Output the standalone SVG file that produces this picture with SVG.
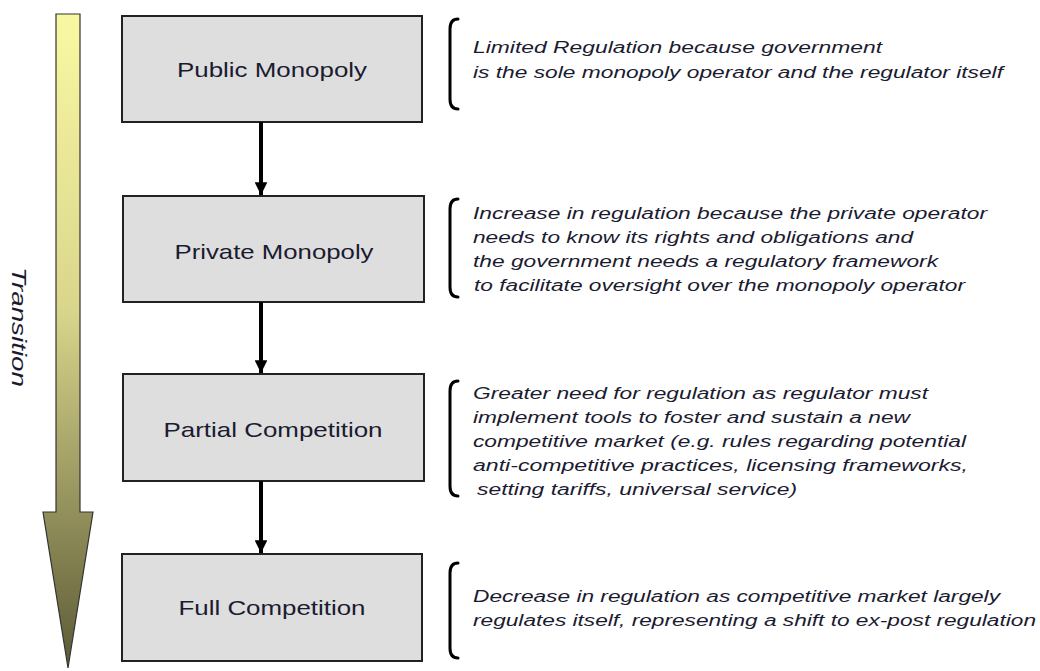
<svg xmlns="http://www.w3.org/2000/svg" width="1040" height="671" viewBox="0 0 1040 671">
  <defs>
    <linearGradient id="transGrad" x1="0" y1="0" x2="0" y2="1">
      <stop offset="0" stop-color="#f9f8a2"/>
      <stop offset="0.45" stop-color="#d9d68c"/>
      <stop offset="1" stop-color="#5c5a36"/>
    </linearGradient>
    <marker id="head" viewBox="0 0 10 10" refX="10" refY="5" markerWidth="3.2" markerHeight="3.2" orient="auto" markerUnits="strokeWidth">
      <path d="M0,0 L10,5 L0,10 Z" fill="#000"/>
    </marker>
    <style>
      .box { fill: #dedede; stroke: #222; stroke-width: 2; }
      .label { font-family: "Liberation Sans", Arial, sans-serif; font-size: 21px; fill: #1b1b30; text-anchor: middle; }
      .note { font-family: "Liberation Sans", Arial, sans-serif; font-size: 16px; font-style: italic; fill: #1b1b30; }
      .brace { fill: none; stroke: #000; stroke-width: 3; stroke-linecap: round; }
      .link { stroke: #000; stroke-width: 4; fill: none; }
    </style>
  </defs>
  <rect width="1040" height="671" fill="#fff"/>

  <!-- transition arrow -->
  <g id="transition">
    <path d="M56,14 H80 V512 H93 L68,668 L43,512 H56 Z" fill="url(#transGrad)" stroke="#333" stroke-width="1.2"/>
    <text transform="translate(12,327) rotate(90) scale(1,1.3)" class="note" font-size="23" text-anchor="middle" textLength="120" lengthAdjust="spacingAndGlyphs">Transition</text>
  </g>

  <!-- stages -->
  <g id="public-monopoly">
    <rect class="box" x="122" y="16" width="300" height="106"/>
    <text class="label" x="272" y="77" textLength="190" lengthAdjust="spacingAndGlyphs">Public Monopoly</text>
  </g>
  <g id="private-monopoly">
    <rect class="box" x="123" y="196" width="301" height="106"/>
    <text class="label" x="274" y="259" textLength="199" lengthAdjust="spacingAndGlyphs">Private Monopoly</text>
  </g>
  <g id="partial-competition">
    <rect class="box" x="123" y="374" width="301" height="107"/>
    <text class="label" x="273" y="437" textLength="219" lengthAdjust="spacingAndGlyphs">Partial Competition</text>
  </g>
  <g id="full-competition">
    <rect class="box" x="122" y="554" width="300" height="107"/>
    <text class="label" x="272" y="615" textLength="187" lengthAdjust="spacingAndGlyphs">Full Competition</text>
  </g>

  <!-- connectors between stages -->
  <g id="connectors">
    <line class="link" x1="261" y1="122" x2="261" y2="195" marker-end="url(#head)"/>
    <line class="link" x1="261" y1="302" x2="261" y2="373" marker-end="url(#head)"/>
    <line class="link" x1="261" y1="481" x2="261" y2="553" marker-end="url(#head)"/>
  </g>

  <!-- regulation notes -->
  <g id="note-public">
    <path class="brace" d="M458,19 Q450,19 450,29 V99 Q450,109 458,109"/>
    <text class="note" x="473" y="53" textLength="409" lengthAdjust="spacingAndGlyphs">Limited Regulation because government</text>
    <text class="note" x="473" y="78" textLength="530" lengthAdjust="spacingAndGlyphs">is the sole monopoly operator and the regulator itself</text>
  </g>
  <g id="note-private">
    <path class="brace" d="M458,199 Q450,199 450,209 V287 Q450,297 458,297"/>
    <text class="note" x="473" y="219" textLength="514" lengthAdjust="spacingAndGlyphs">Increase in regulation because the private operator</text>
    <text class="note" x="473" y="243" textLength="440" lengthAdjust="spacingAndGlyphs">needs to know its rights and obligations and</text>
    <text class="note" x="473" y="267" textLength="465" lengthAdjust="spacingAndGlyphs">the government needs a regulatory framework</text>
    <text class="note" x="474" y="291" textLength="491" lengthAdjust="spacingAndGlyphs">to facilitate oversight over the monopoly operator</text>
  </g>
  <g id="note-partial">
    <path class="brace" d="M458,381 Q450,381 450,391 V486 Q450,496 458,496"/>
    <text class="note" x="473" y="399" textLength="455" lengthAdjust="spacingAndGlyphs">Greater need for regulation as regulator must</text>
    <text class="note" x="473" y="423" textLength="437" lengthAdjust="spacingAndGlyphs">implement tools to foster and sustain a new</text>
    <text class="note" x="473" y="447" textLength="493" lengthAdjust="spacingAndGlyphs">competitive market (e.g. rules regarding potential</text>
    <text class="note" x="473" y="471" textLength="495" lengthAdjust="spacingAndGlyphs">anti-competitive practices, licensing frameworks,</text>
    <text class="note" x="477" y="495" textLength="320" lengthAdjust="spacingAndGlyphs">setting tariffs, universal service)</text>
  </g>
  <g id="note-full">
    <path class="brace" d="M458,563 Q450,563 450,573 V648 Q450,658 458,658"/>
    <text class="note" x="473" y="602" textLength="527" lengthAdjust="spacingAndGlyphs">Decrease in regulation as competitive market largely</text>
    <text class="note" x="473" y="626" textLength="563" lengthAdjust="spacingAndGlyphs">regulates itself, representing a shift to ex-post regulation</text>
  </g>
</svg>
